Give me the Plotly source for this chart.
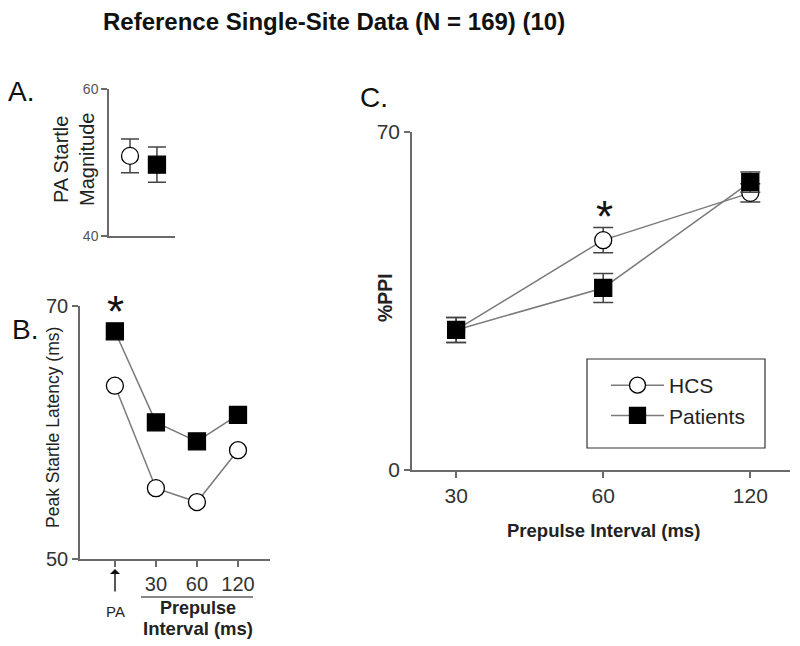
import plotly.graph_objects as go

# ---------------- data ----------------
groups = ["HCS", "Patients"]
# Panel A: PA startle magnitude
pa_mag = [50.9, 49.7]
pa_mag_err = [2.3, 2.4]

# Panel B: peak startle latency (ms)
lat_cats = ["PA", "30", "60", "120"]
hcs_latency = [63.7, 55.6, 54.5, 58.6]
pat_latency = [68.0, 60.8, 59.3, 61.4]

# Panel C: %PPI
ppi_cats = ["30", "60", "120"]
hcs_ppi = [29.0, 47.6, 57.4]
hcs_ppi_err = [2.6, 2.6, 1.9]
pat_ppi = [29.0, 37.7, 59.6]
pat_ppi_err = [2.6, 3.0, 2.1]

W, H = 800, 646
OFF = 8  # page body margin
FONT = "Liberation Sans, Arial, sans-serif"
LINE_C = "#7a7a7a"
AX_C = "#6a6a6a"
ERR_C = "#444444"

def px(x):
    return (x - OFF) / W

def py(y):
    return 1 - (y - OFF) / H

fig = go.Figure()

circle = dict(symbol="circle", size=17, color="white", line=dict(color="black", width=1.3))
square = dict(symbol="square", size=17, color="black", line=dict(color="black", width=1.3))

# Panel A
fig.add_trace(go.Scatter(x=[groups[0]], y=[pa_mag[0]], mode="markers", marker=circle,
                         error_y=dict(type="data", array=[pa_mag_err[0]], color=ERR_C, thickness=1.5, width=9),
                         xaxis="x", yaxis="y", showlegend=False))
fig.add_trace(go.Scatter(x=[groups[1]], y=[pa_mag[1]], mode="markers", marker=square,
                         error_y=dict(type="data", array=[pa_mag_err[1]], color=ERR_C, thickness=1.5, width=9),
                         xaxis="x", yaxis="y", showlegend=False))

# Panel B
fig.add_trace(go.Scatter(x=lat_cats, y=hcs_latency, mode="lines+markers", marker=circle,
                         line=dict(color=LINE_C, width=1.5), xaxis="x2", yaxis="y2", showlegend=False))
fig.add_trace(go.Scatter(x=lat_cats, y=pat_latency, mode="lines+markers", marker=square,
                         line=dict(color=LINE_C, width=1.5), xaxis="x2", yaxis="y2", showlegend=False))

# Panel C
fig.add_trace(go.Scatter(x=ppi_cats, y=hcs_ppi, mode="lines+markers", marker=circle, name="HCS",
                         line=dict(color=LINE_C, width=1.5),
                         error_y=dict(type="data", array=hcs_ppi_err, color=ERR_C, thickness=1.5, width=10),
                         xaxis="x3", yaxis="y3"))
fig.add_trace(go.Scatter(x=ppi_cats, y=pat_ppi, mode="lines+markers", marker=square, name="Patients",
                         line=dict(color=LINE_C, width=1.5),
                         error_y=dict(type="data", array=pat_ppi_err, color=ERR_C, thickness=1.5, width=10),
                         xaxis="x3", yaxis="y3"))

common = dict(showgrid=False, zeroline=False, showline=True, linecolor=AX_C, linewidth=1.5,
              ticks="outside", tickcolor=AX_C, ticklen=6, tickwidth=1.5, automargin=False)

fig.update_layout(
    width=W, height=H, autosize=False,
    margin=dict(l=0, r=0, t=0, b=0, autoexpand=False),
    paper_bgcolor="white", plot_bgcolor="white",
    font=dict(family=FONT, color="#222"),
    # Panel A
    xaxis=dict(domain=[px(109), px(175)], anchor="y", type="category", range=[-0.78, 1.67],
               showgrid=False, zeroline=False, showline=True, linecolor=AX_C, linewidth=1.5,
               ticks="", showticklabels=False, automargin=False),
    yaxis=dict(domain=[py(236), py(89)], anchor="x", range=[40, 60], tickvals=[40, 60],
               tickfont=dict(size=14, color="#555"), **common),
    # Panel B
    xaxis2=dict(domain=[px(80), px(270)], anchor="y2", type="category", range=[-0.85, 3.78],
                tickvals=lat_cats, ticktext=["", "30", "60", "120"],
                tickfont=dict(size=20, color="#333"), **common),
    yaxis2=dict(domain=[py(559), py(306)], anchor="x2", range=[50, 70], tickvals=[50, 70],
                tickfont=dict(size=20, color="#333"), **common),
    # Panel C
    xaxis3=dict(domain=[px(412), px(790)], anchor="y3", type="category", range=[-0.3, 2.27],
                tickfont=dict(size=21, color="#333"), **common),
    yaxis3=dict(domain=[py(470), py(132)], anchor="x3", range=[0, 70], tickvals=[0, 70],
                tickfont=dict(size=21, color="#333"), **common),
    legend=dict(x=px(606), y=py(365), xanchor="left", yanchor="top",
                font=dict(size=21, color="#222"), bgcolor="rgba(0,0,0,0)", borderwidth=0,
                tracegroupgap=0, itemwidth=53),
)

def note(text, x, y, size, xanchor="center", yanchor="middle", angle=0, color="#222"):
    return dict(text=text, x=px(x), y=py(y), xref="paper", yref="paper", showarrow=False,
                xanchor=xanchor, yanchor=yanchor, textangle=angle,
                font=dict(size=size, color=color, family=FONT))

ann = [
    note("<b>Reference Single-Site Data (N = 169) (10)</b>", 334, 21, 24, color="#111"),
    note("A.", 6, 92, 28, xanchor="left", color="#111"),
    note("B.", 10, 329, 28, xanchor="left", color="#111"),
    note("C.", 358, 97, 28, xanchor="left", color="#111"),
    note("PA Startle<br>Magnitude", 74, 160, 20, angle=-90),
    note("Peak Startle Latency (ms)", 53, 428, 17.5, angle=-90),
    note("<b>%PPI</b>", 385, 298, 19.5, angle=-90),
    note("<b>Prepulse Interval (ms)</b>", 603, 530, 18.5),
    note("*", 115, 311, 44, color="#111"),
    note("*", 604, 217, 44, color="#111"),
    note("PA", 115, 611, 15),
    note("<b>Prepulse</b>", 198, 608, 18),
    note("<b>Interval (ms)</b>", 198, 628, 18.5),
    dict(text="", x=px(115), y=py(569), xref="paper", yref="paper", showarrow=True,
         ax=0, ay=24, arrowhead=1, arrowsize=1.2, arrowwidth=1.4, arrowcolor="#111"),
]
fig.update_layout(annotations=ann)

fig.update_layout(shapes=[
    dict(type="line", xref="paper", yref="paper", x0=px(141), x1=px(253), y0=py(597), y1=py(597),
         line=dict(color="#888", width=2)),
    dict(type="rect", xref="paper", yref="paper", x0=px(587), x1=px(765), y0=py(448), y1=py(359),
         line=dict(color="#333", width=1.2), fillcolor="rgba(0,0,0,0)"),
])

fig.write_html("out.html")
